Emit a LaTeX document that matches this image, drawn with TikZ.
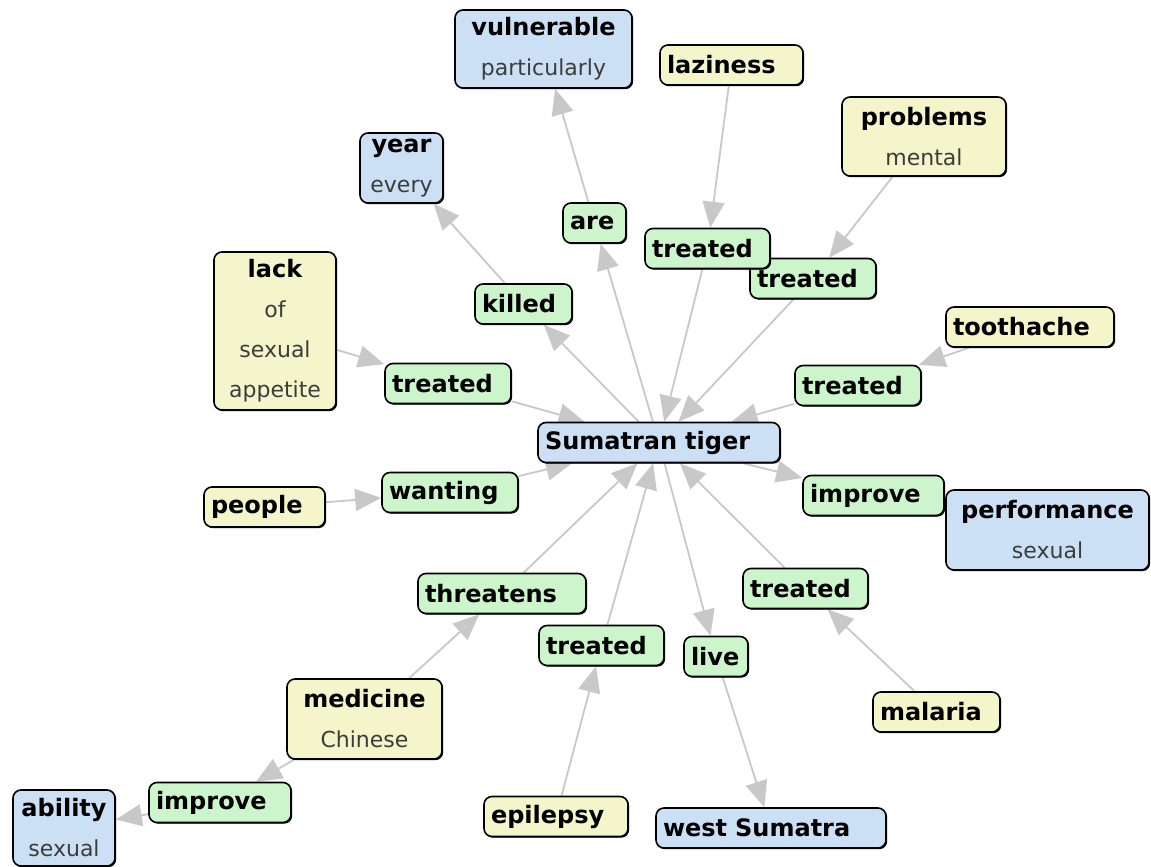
\documentclass[tikz,border=0pt]{standalone}
\usepackage{fontspec}
\setmainfont{DejaVu Sans}
\usetikzlibrary{arrows.meta,shadows,backgrounds}
\definecolor{cblue}{RGB}{204,224,245}
\definecolor{cyellow}{RGB}{245,245,204}
\definecolor{cgreen}{RGB}{204,245,204}
\definecolor{linkgray}{RGB}{200,200,200}
\definecolor{subgray}{RGB}{60,60,60}
% secondary (lighter) line inside a concept box
\newcommand\subline[1]{{\mdseries\fontsize{11}{20}\selectfont\color{subgray}#1}}

\begin{document}
\begin{tikzpicture}[x={(0.5pt,0)},y={(0,-0.5pt)},
  concept/.style={draw=black, line width=0.8pt, rounded corners=4pt,
    inner xsep=3.5pt, inner ysep=0pt, minimum height=20pt,
    font=\fontsize{12}{20}\selectfont\bfseries,
    drop shadow={shadow xshift=0.6pt,shadow yshift=-0.6pt,fill=black,opacity=1}},
  oneline/.style={align=left, text width=#1},
  twoline/.style={align=center, text width=#1},
  bluebox/.style={concept, fill=cblue},
  yellowbox/.style={concept, fill=cyellow},
  greenbox/.style={concept, fill=cgreen},
  link/.style={draw=linkgray, line width=0.9pt,
    -{Triangle[length=13pt,width=11pt]}, color=linkgray}]
\useasboundingbox (0,0) rectangle (1151,867);

% central concept
\node[bluebox, oneline=114pt] (tiger) at (659,442.5) {Sumatran tiger};

% outer concepts
\node[bluebox, twoline=81.5pt, minimum height=39pt] (vulnerable) at (543.5,49) {vulnerable\\\subline{particularly}};
\node[yellowbox, oneline=64.5pt] (laziness) at (731.5,65) {laziness};
\node[yellowbox, twoline=75pt, minimum height=39.5pt] (problems) at (924,136.5) {problems\\\subline{mental}};
\node[bluebox, twoline=34.5pt, minimum height=35pt] (year) at (401.5,168) {year\\\subline{every}};
\node[yellowbox, twoline=54pt, minimum height=79pt] (lack) at (275,331) {lack\\\subline{of}\\\subline{sexual}\\\subline{appetite}};
\node[yellowbox, oneline=77pt] (toothache) at (1030,327) {toothache};
\node[yellowbox, oneline=53.5pt] (people) at (264.5,507) {people};
\node[bluebox, twoline=94.5pt, minimum height=40pt] (performance) at (1047.5,530) {performance\\\subline{sexual}};
\node[yellowbox, twoline=70.5pt, minimum height=40pt] (medicine) at (364.5,719) {medicine\\\subline{Chinese}};
\node[yellowbox, oneline=56.5pt] (malaria) at (936.5,712) {malaria};
\node[bluebox, twoline=44pt, minimum height=38pt] (ability) at (64,828) {ability\\\subline{sexual}};
\node[yellowbox, oneline=65pt] (epilepsy) at (556,816.5) {epilepsy};
\node[bluebox, oneline=108pt] (westSumatra) at (771,828) {west Sumatra};

% linking phrases
\node[greenbox, oneline=24.5pt] (are) at (594.5,223) {are};
\node[greenbox, oneline=56pt] (treatedB) at (813,278.5) {treated};
\node[greenbox, oneline=55.5pt] (treatedA) at (707.5,248.5) {treated};
\node[greenbox, oneline=41.5pt] (killed) at (523.5,304) {killed};
\node[greenbox, oneline=56pt] (treatedC) at (448,383.5) {treated};
\node[greenbox, oneline=56pt] (treatedD) at (858,385.5) {treated};
\node[greenbox, oneline=61pt] (wanting) at (450,492.5) {wanting};
\node[greenbox, oneline=63.5pt] (improveR) at (873.5,495.5) {improve};
\node[greenbox, oneline=77pt] (threatens) at (502,593.5) {threatens};
\node[greenbox, oneline=55.5pt] (treatedE) at (805.5,588.5) {treated};
\node[greenbox, oneline=55.5pt] (treatedF) at (601.5,645.5) {treated};
\node[greenbox, oneline=25pt] (live) at (716,656.5) {live};
\node[greenbox, oneline=64pt] (improveL) at (220,802.5) {improve};

% connectors
\begin{scope}[on background layer]
\draw[link] (are) -- (vulnerable);
\draw[link] (tiger) -- (are);
\draw[link] (laziness) -- (treatedA);
\draw[link] (treatedA) -- (tiger);
\draw[link] (problems) -- (treatedB);
\draw[link] (treatedB) -- (tiger);
\draw[link] (killed) -- (year);
\draw[link] (tiger) -- (killed);
\draw[link] (lack) -- (treatedC);
\draw[link] (treatedC) -- (tiger);
\draw[link] (toothache) -- (treatedD);
\draw[link] (treatedD) -- (tiger);
\draw[link] (people) -- (wanting);
\draw[link] (wanting) -- (tiger);
\draw[link] (tiger) -- (improveR);
\draw[link] (threatens) -- (tiger);
\draw[link] (medicine) -- (threatens);
\draw[link] (treatedF) -- (tiger);
\draw[link] (epilepsy) -- (treatedF);
\draw[link] (tiger) -- (live);
\draw[link] (live) -- (westSumatra);
\draw[link] (treatedE) -- (tiger);
\draw[link] (malaria) -- (treatedE);
\draw[link] (medicine) -- (improveL);
\draw[link] (improveL) -- (ability);
\end{scope}
\end{tikzpicture}
\end{document}
